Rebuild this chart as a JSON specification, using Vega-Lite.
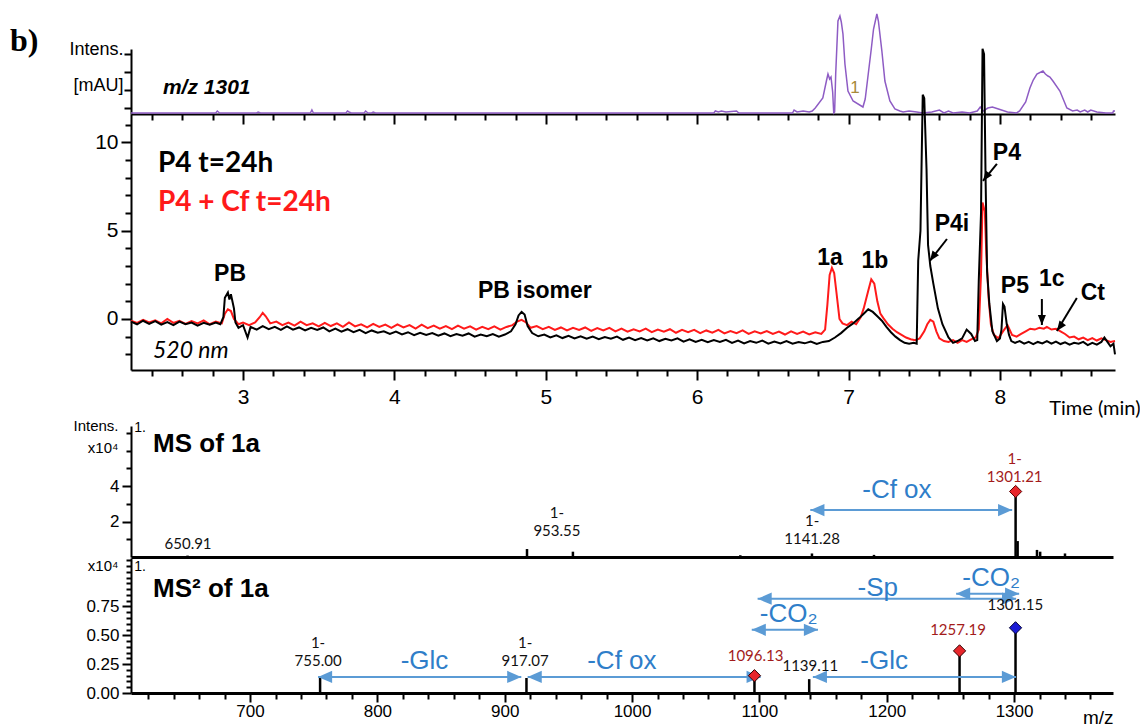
{
"$schema":"https://vega.github.io/schema/vega-lite/v6.json",
"background":"white",
"padding":{"left":10,"top":10,"right":0,"bottom":0},
"config":{"view":{"stroke":null},"axis":{"grid":false,"domainColor":"#000","tickColor":"#000","labelColor":"#000","titleColor":"#000","labelFont":"Liberation Sans","titleFont":"Liberation Sans","titleFontWeight":"normal","domainWidth":2,"tickWidth":2}},
"datasets":{
"purple":[{"t":2.26,"v":1},{"t":2.82,"v":1},{"t":2.83,"v":3},{"t":2.845,"v":1},{"t":3.09,"v":1},{"t":3.1,"v":2},{"t":3.115,"v":1},{"t":3.445,"v":1},{"t":3.455,"v":4},{"t":3.465,"v":1},{"t":3.68,"v":1},{"t":3.69,"v":3},{"t":3.7,"v":2},{"t":3.715,"v":1},{"t":3.8,"v":1},{"t":3.81,"v":3},{"t":3.825,"v":1},{"t":3.85,"v":1},{"t":3.86,"v":2},{"t":3.875,"v":1},{"t":6.11,"v":1},{"t":6.12,"v":3},{"t":6.14,"v":2},{"t":6.16,"v":3},{"t":6.19,"v":2},{"t":6.26,"v":3},{"t":6.275,"v":1},{"t":6.63,"v":1},{"t":6.64,"v":4},{"t":6.66,"v":2},{"t":6.7,"v":3},{"t":6.74,"v":2},{"t":6.76,"v":3},{"t":6.78,"v":6},{"t":6.83,"v":16},{"t":6.855,"v":34},{"t":6.864,"v":40},{"t":6.875,"v":35},{"t":6.884,"v":37},{"t":6.895,"v":22},{"t":6.902,"v":1},{"t":6.908,"v":2},{"t":6.915,"v":40},{"t":6.93,"v":93},{"t":6.943,"v":98},{"t":6.952,"v":92},{"t":6.963,"v":80},{"t":6.976,"v":50},{"t":6.996,"v":23},{"t":7.03,"v":13},{"t":7.095,"v":7},{"t":7.11,"v":15},{"t":7.13,"v":40},{"t":7.15,"v":65},{"t":7.165,"v":85},{"t":7.187,"v":100},{"t":7.197,"v":93},{"t":7.22,"v":63},{"t":7.24,"v":33},{"t":7.273,"v":13},{"t":7.306,"v":5},{"t":7.339,"v":3},{"t":7.36,"v":2},{"t":7.4,"v":3},{"t":7.45,"v":2},{"t":7.49,"v":1},{"t":7.55,"v":2},{"t":7.6,"v":4},{"t":7.63,"v":1},{"t":7.66,"v":3},{"t":7.69,"v":1},{"t":7.75,"v":2},{"t":7.8,"v":1},{"t":7.85,"v":3},{"t":7.87,"v":7},{"t":7.89,"v":3},{"t":7.92,"v":6},{"t":7.95,"v":7},{"t":7.99,"v":5},{"t":8.05,"v":2},{"t":8.11,"v":1},{"t":8.13,"v":3},{"t":8.17,"v":12},{"t":8.198,"v":26},{"t":8.22,"v":34},{"t":8.244,"v":40},{"t":8.284,"v":43},{"t":8.3,"v":40},{"t":8.317,"v":38},{"t":8.33,"v":37},{"t":8.35,"v":33},{"t":8.396,"v":23},{"t":8.442,"v":6},{"t":8.48,"v":3},{"t":8.51,"v":4},{"t":8.53,"v":2},{"t":8.56,"v":4},{"t":8.58,"v":2},{"t":8.6,"v":4},{"t":8.64,"v":2},{"t":8.7,"v":1},{"t":8.745,"v":1},{"t":8.75,"v":3},{"t":8.76,"v":3}],
"black":[{"t":2.26,"v":-0.15},{"t":2.3,"v":-0.3},{"t":2.34,"v":-0.1},{"t":2.38,"v":-0.28},{"t":2.42,"v":-0.12},{"t":2.46,"v":-0.32},{"t":2.5,"v":-0.18},{"t":2.54,"v":-0.35},{"t":2.58,"v":-0.15},{"t":2.62,"v":-0.3},{"t":2.66,"v":-0.2},{"t":2.7,"v":-0.38},{"t":2.74,"v":-0.22},{"t":2.78,"v":-0.33},{"t":2.82,"v":-0.2},{"t":2.85,"v":-0.3},{"t":2.87,"v":0.1},{"t":2.88,"v":1.2},{"t":2.9,"v":1.5},{"t":2.91,"v":1.1},{"t":2.92,"v":1.4},{"t":2.94,"v":0.6},{"t":2.95,"v":-0.2},{"t":2.97,"v":-0.5},{"t":3.0,"v":-0.35},{"t":3.03,"v":-1.05},{"t":3.05,"v":-0.45},{"t":3.09,"v":-0.6},{"t":3.13,"v":-0.4},{"t":3.17,"v":-0.58},{"t":3.21,"v":-0.45},{"t":3.25,"v":-0.62},{"t":3.29,"v":-0.42},{"t":3.33,"v":-0.6},{"t":3.37,"v":-0.48},{"t":3.41,"v":-0.65},{"t":3.45,"v":-0.5},{"t":3.49,"v":-0.62},{"t":3.53,"v":-0.48},{"t":3.57,"v":-0.7},{"t":3.61,"v":-0.55},{"t":3.65,"v":-0.72},{"t":3.69,"v":-0.58},{"t":3.73,"v":-0.75},{"t":3.77,"v":-0.62},{"t":3.81,"v":-0.8},{"t":3.85,"v":-0.65},{"t":3.89,"v":-0.78},{"t":3.93,"v":-0.7},{"t":3.97,"v":-0.85},{"t":4.01,"v":-0.72},{"t":4.05,"v":-0.88},{"t":4.09,"v":-0.75},{"t":4.13,"v":-0.92},{"t":4.17,"v":-0.78},{"t":4.21,"v":-0.9},{"t":4.25,"v":-0.8},{"t":4.29,"v":-0.95},{"t":4.33,"v":-0.82},{"t":4.37,"v":-0.98},{"t":4.41,"v":-0.85},{"t":4.45,"v":-0.95},{"t":4.49,"v":-0.82},{"t":4.53,"v":-1.0},{"t":4.57,"v":-0.88},{"t":4.61,"v":-0.98},{"t":4.65,"v":-0.85},{"t":4.69,"v":-1.0},{"t":4.73,"v":-0.88},{"t":4.77,"v":-0.7},{"t":4.8,"v":-0.3},{"t":4.82,"v":0.2},{"t":4.84,"v":0.4},{"t":4.86,"v":0.25},{"t":4.88,"v":-0.4},{"t":4.91,"v":-0.8},{"t":4.95,"v":-0.98},{"t":4.99,"v":-0.88},{"t":5.03,"v":-1.05},{"t":5.07,"v":-0.92},{"t":5.11,"v":-1.08},{"t":5.15,"v":-0.95},{"t":5.19,"v":-1.1},{"t":5.23,"v":-0.98},{"t":5.27,"v":-1.12},{"t":5.31,"v":-1.0},{"t":5.35,"v":-1.15},{"t":5.39,"v":-1.02},{"t":5.43,"v":-1.12},{"t":5.47,"v":-1.0},{"t":5.51,"v":-1.18},{"t":5.55,"v":-1.05},{"t":5.59,"v":-1.2},{"t":5.63,"v":-1.08},{"t":5.67,"v":-1.22},{"t":5.71,"v":-1.1},{"t":5.75,"v":-1.25},{"t":5.79,"v":-1.12},{"t":5.83,"v":-1.22},{"t":5.87,"v":-1.1},{"t":5.91,"v":-1.28},{"t":5.95,"v":-1.15},{"t":5.99,"v":-1.3},{"t":6.03,"v":-1.18},{"t":6.07,"v":-1.32},{"t":6.11,"v":-1.2},{"t":6.15,"v":-1.3},{"t":6.19,"v":-1.18},{"t":6.23,"v":-1.35},{"t":6.27,"v":-1.22},{"t":6.31,"v":-1.38},{"t":6.35,"v":-1.25},{"t":6.39,"v":-1.35},{"t":6.43,"v":-1.22},{"t":6.47,"v":-1.4},{"t":6.51,"v":-1.28},{"t":6.55,"v":-1.38},{"t":6.59,"v":-1.25},{"t":6.63,"v":-1.4},{"t":6.67,"v":-1.3},{"t":6.71,"v":-1.38},{"t":6.75,"v":-1.28},{"t":6.79,"v":-1.42},{"t":6.83,"v":-1.3},{"t":6.87,"v":-1.25},{"t":6.91,"v":-1.05},{"t":6.95,"v":-0.8},{"t":6.99,"v":-0.5},{"t":7.03,"v":-0.25},{"t":7.07,"v":0.05},{"t":7.1,"v":0.3},{"t":7.13,"v":0.55},{"t":7.16,"v":0.4},{"t":7.19,"v":0.15},{"t":7.22,"v":-0.1},{"t":7.25,"v":-0.45},{"t":7.28,"v":-0.75},{"t":7.31,"v":-1.0},{"t":7.34,"v":-1.2},{"t":7.37,"v":-1.35},{"t":7.4,"v":-1.4},{"t":7.43,"v":-1.35},{"t":7.45,"v":-1.4},{"t":7.46,"v":3.3},{"t":7.475,"v":5.0},{"t":7.49,"v":12.7},{"t":7.5,"v":12.5},{"t":7.515,"v":8.5},{"t":7.525,"v":4.2},{"t":7.54,"v":3.0},{"t":7.56,"v":2.0},{"t":7.59,"v":0.6},{"t":7.62,"v":-0.3},{"t":7.66,"v":-1.05},{"t":7.69,"v":-1.35},{"t":7.72,"v":-1.25},{"t":7.75,"v":-1.1},{"t":7.78,"v":-0.6},{"t":7.81,"v":-0.85},{"t":7.835,"v":-1.25},{"t":7.85,"v":-1.2},{"t":7.86,"v":2.15},{"t":7.875,"v":6.0},{"t":7.885,"v":15.3},{"t":7.895,"v":15.0},{"t":7.905,"v":8.0},{"t":7.915,"v":2.7},{"t":7.93,"v":0.85},{"t":7.95,"v":-0.7},{"t":7.98,"v":-1.25},{"t":8.0,"v":-1.1},{"t":8.01,"v":-0.6},{"t":8.02,"v":0.85},{"t":8.03,"v":0.7},{"t":8.045,"v":-0.3},{"t":8.06,"v":-0.9},{"t":8.075,"v":-1.25},{"t":8.1,"v":-1.35},{"t":8.13,"v":-1.25},{"t":8.16,"v":-1.4},{"t":8.19,"v":-1.3},{"t":8.22,"v":-1.42},{"t":8.25,"v":-1.3},{"t":8.28,"v":-1.38},{"t":8.31,"v":-1.25},{"t":8.34,"v":-1.4},{"t":8.37,"v":-1.28},{"t":8.4,"v":-1.42},{"t":8.43,"v":-1.32},{"t":8.46,"v":-1.45},{"t":8.49,"v":-1.35},{"t":8.52,"v":-1.4},{"t":8.55,"v":-1.3},{"t":8.58,"v":-1.48},{"t":8.61,"v":-1.35},{"t":8.64,"v":-1.45},{"t":8.67,"v":-1.3},{"t":8.69,"v":-1.05},{"t":8.71,"v":-1.3},{"t":8.73,"v":-1.55},{"t":8.75,"v":-1.4},{"t":8.76,"v":-2.0}],
"red":[{"t":2.26,"v":-0.1},{"t":2.3,"v":-0.22},{"t":2.34,"v":-0.05},{"t":2.38,"v":-0.2},{"t":2.42,"v":-0.08},{"t":2.46,"v":-0.25},{"t":2.5,"v":0.0},{"t":2.54,"v":-0.22},{"t":2.58,"v":-0.1},{"t":2.62,"v":-0.28},{"t":2.66,"v":-0.12},{"t":2.7,"v":-0.25},{"t":2.74,"v":-0.08},{"t":2.78,"v":-0.3},{"t":2.82,"v":-0.15},{"t":2.86,"v":-0.25},{"t":2.88,"v":0.3},{"t":2.9,"v":0.55},{"t":2.92,"v":0.45},{"t":2.94,"v":0.0},{"t":2.97,"v":-0.3},{"t":3.0,"v":-0.2},{"t":3.04,"v":-0.35},{"t":3.08,"v":-0.2},{"t":3.11,"v":0.1},{"t":3.13,"v":0.35},{"t":3.15,"v":0.15},{"t":3.18,"v":-0.25},{"t":3.22,"v":-0.15},{"t":3.26,"v":-0.35},{"t":3.3,"v":-0.2},{"t":3.34,"v":-0.38},{"t":3.38,"v":-0.15},{"t":3.42,"v":-0.35},{"t":3.46,"v":-0.25},{"t":3.5,"v":-0.42},{"t":3.54,"v":-0.22},{"t":3.58,"v":-0.4},{"t":3.62,"v":-0.25},{"t":3.66,"v":-0.45},{"t":3.7,"v":-0.2},{"t":3.74,"v":-0.42},{"t":3.78,"v":-0.3},{"t":3.82,"v":-0.48},{"t":3.86,"v":-0.28},{"t":3.9,"v":-0.45},{"t":3.94,"v":-0.32},{"t":3.98,"v":-0.5},{"t":4.02,"v":-0.3},{"t":4.06,"v":-0.48},{"t":4.1,"v":-0.35},{"t":4.14,"v":-0.55},{"t":4.18,"v":-0.32},{"t":4.22,"v":-0.52},{"t":4.26,"v":-0.38},{"t":4.3,"v":-0.55},{"t":4.34,"v":-0.4},{"t":4.38,"v":-0.58},{"t":4.42,"v":-0.38},{"t":4.46,"v":-0.55},{"t":4.5,"v":-0.42},{"t":4.54,"v":-0.6},{"t":4.58,"v":-0.45},{"t":4.62,"v":-0.58},{"t":4.66,"v":-0.42},{"t":4.7,"v":-0.6},{"t":4.74,"v":-0.45},{"t":4.78,"v":-0.35},{"t":4.81,"v":-0.15},{"t":4.84,"v":-0.05},{"t":4.87,"v":-0.2},{"t":4.9,"v":-0.5},{"t":4.94,"v":-0.4},{"t":4.98,"v":-0.58},{"t":5.02,"v":-0.45},{"t":5.06,"v":-0.62},{"t":5.1,"v":-0.48},{"t":5.14,"v":-0.65},{"t":5.18,"v":-0.5},{"t":5.22,"v":-0.62},{"t":5.26,"v":-0.48},{"t":5.3,"v":-0.68},{"t":5.34,"v":-0.52},{"t":5.38,"v":-0.65},{"t":5.42,"v":-0.5},{"t":5.46,"v":-0.7},{"t":5.5,"v":-0.55},{"t":5.54,"v":-0.72},{"t":5.58,"v":-0.58},{"t":5.62,"v":-0.7},{"t":5.66,"v":-0.55},{"t":5.7,"v":-0.75},{"t":5.74,"v":-0.6},{"t":5.78,"v":-0.72},{"t":5.82,"v":-0.58},{"t":5.86,"v":-0.78},{"t":5.9,"v":-0.62},{"t":5.94,"v":-0.75},{"t":5.98,"v":-0.62},{"t":6.02,"v":-0.8},{"t":6.06,"v":-0.65},{"t":6.1,"v":-0.78},{"t":6.14,"v":-0.62},{"t":6.18,"v":-0.82},{"t":6.22,"v":-0.68},{"t":6.26,"v":-0.8},{"t":6.3,"v":-0.65},{"t":6.34,"v":-0.85},{"t":6.38,"v":-0.7},{"t":6.42,"v":-0.82},{"t":6.46,"v":-0.68},{"t":6.5,"v":-0.85},{"t":6.54,"v":-0.72},{"t":6.58,"v":-0.88},{"t":6.62,"v":-0.7},{"t":6.66,"v":-0.85},{"t":6.7,"v":-0.72},{"t":6.74,"v":-0.88},{"t":6.78,"v":-0.75},{"t":6.82,"v":-0.85},{"t":6.845,"v":-0.6},{"t":6.86,"v":0.8},{"t":6.875,"v":2.5},{"t":6.89,"v":2.9},{"t":6.905,"v":2.6},{"t":6.92,"v":1.5},{"t":6.94,"v":0.0},{"t":6.96,"v":-0.25},{"t":6.99,"v":-0.35},{"t":7.02,"v":-0.15},{"t":7.05,"v":-0.3},{"t":7.08,"v":0.1},{"t":7.1,"v":0.6},{"t":7.13,"v":1.6},{"t":7.15,"v":2.25},{"t":7.17,"v":2.0},{"t":7.19,"v":1.0},{"t":7.21,"v":0.3},{"t":7.23,"v":0.05},{"t":7.26,"v":-0.3},{"t":7.29,"v":-0.55},{"t":7.32,"v":-0.75},{"t":7.35,"v":-0.9},{"t":7.38,"v":-1.05},{"t":7.41,"v":-1.15},{"t":7.44,"v":-1.2},{"t":7.47,"v":-1.1},{"t":7.5,"v":-0.7},{"t":7.52,"v":-0.3},{"t":7.54,"v":-0.05},{"t":7.56,"v":-0.15},{"t":7.58,"v":-0.7},{"t":7.6,"v":-1.1},{"t":7.63,"v":-1.25},{"t":7.66,"v":-1.3},{"t":7.69,"v":-1.2},{"t":7.72,"v":-1.35},{"t":7.75,"v":-1.2},{"t":7.78,"v":-1.3},{"t":7.81,"v":-1.15},{"t":7.84,"v":-1.05},{"t":7.86,"v":-0.6},{"t":7.875,"v":2.55},{"t":7.885,"v":6.6},{"t":7.9,"v":6.1},{"t":7.91,"v":3.7},{"t":7.925,"v":1.2},{"t":7.94,"v":-0.3},{"t":7.96,"v":-0.9},{"t":7.99,"v":-1.1},{"t":8.02,"v":-0.7},{"t":8.05,"v":-0.35},{"t":8.08,"v":-0.9},{"t":8.11,"v":-1.0},{"t":8.14,"v":-0.85},{"t":8.17,"v":-0.7},{"t":8.2,"v":-0.55},{"t":8.23,"v":-0.6},{"t":8.26,"v":-0.5},{"t":8.29,"v":-0.55},{"t":8.31,"v":-0.45},{"t":8.34,"v":-0.6},{"t":8.37,"v":-0.55},{"t":8.4,"v":-0.7},{"t":8.43,"v":-0.85},{"t":8.46,"v":-1.05},{"t":8.49,"v":-1.0},{"t":8.52,"v":-1.15},{"t":8.55,"v":-1.05},{"t":8.58,"v":-1.2},{"t":8.61,"v":-1.08},{"t":8.64,"v":-1.22},{"t":8.67,"v":-1.1},{"t":8.7,"v":-1.2},{"t":8.73,"v":-1.3},{"t":8.76,"v":-1.25}],
"chromText":[{"t":2.914,"v":2.55,"label":"PB"},{"t":4.928,"v":1.59,"label":"PB isomer"},{"t":6.877,"v":3.46,"label":"1a"},{"t":7.174,"v":3.29,"label":"1b"},{"t":7.683,"v":5.38,"label":"P4i"},{"t":8.046,"v":9.41,"label":"P4"},{"t":8.099,"v":1.87,"label":"P5"},{"t":8.343,"v":2.27,"label":"1c"},{"t":8.614,"v":1.47,"label":"Ct"}],
"chromLegend":[{"t":2.438,"v":8.78,"label":"P4 t=24h","kind":"k"},{"t":2.438,"v":6.57,"label":"P4 + Cf t=24h","kind":"r"}],
"chromArrows":[{"t":7.65,"v":4.53,"t2":7.537,"v2":3.29},{"t":7.98,"v":8.78,"t2":7.888,"v2":7.82},{"t":8.508,"v":1.19,"t2":8.376,"v2":-0.68},{"t":8.277,"v":1.13,"t2":8.277,"v2":-0.34}],
"chromHeads":[{"t":7.537,"v":3.29,"dir":"diag"},{"t":7.888,"v":7.82,"dir":"diag"},{"t":8.376,"v":-0.68,"dir":"diag"},{"t":8.277,"v":-0.34,"dir":"vert"}],
"msPeaks":[{"mz":650.91,"v":0.08},{"mz":917.5,"v":0.45},{"mz":953.55,"v":0.3},{"mz":1085,"v":0.1},{"mz":1141.28,"v":0.2},{"mz":1190,"v":0.12},{"mz":1301.21,"v":3.6},{"mz":1302.8,"v":0.9},{"mz":1318,"v":0.4},{"mz":1320.5,"v":0.3},{"mz":1340,"v":0.2}],
"msDiamonds":[{"mz":1301.21,"v":3.7}],
"msLabels":[{"mz":651.3,"v":0.76,"label":"650.91","kind":"k"},{"mz":941,"v":2.5,"label":"1-\n953.55","kind":"k"},{"mz":1141.4,"v":2.05,"label":"1-\n1141.28","kind":"k"},{"mz":1300.5,"v":5.55,"label":"1-\n1301.21","kind":"r"}],
"msArrows":[{"mz":1140,"mz2":1298.5,"v":2.65}],
"msHeads":[{"mz":1140,"v":2.65,"dir":"left"},{"mz":1298.5,"v":2.65,"dir":"right"}],
"msText":[{"mz":1208,"v":3.76,"label":"-Cf ox"}],
"ms2Peaks":[{"mz":755.0,"v":0.13},{"mz":917.07,"v":0.13},{"mz":1096.13,"v":0.16},{"mz":1139.11,"v":0.12},{"mz":1257.19,"v":0.365},{"mz":1301.15,"v":0.565}],
"ms2Diamonds":[{"mz":1096.13,"v":0.15,"kind":"r"},{"mz":1257.19,"v":0.365,"kind":"r"},{"mz":1301.15,"v":0.565,"kind":"b"}],
"ms2Labels":[{"mz":753.4,"v":0.43,"label":"1-\n755.00","kind":"k"},{"mz":916,"v":0.43,"label":"1-\n917.07","kind":"k"},{"mz":1097,"v":0.32,"label":"1096.13","kind":"r"},{"mz":1140,"v":0.235,"label":"1139.11","kind":"k"},{"mz":1256,"v":0.55,"label":"1257.19","kind":"r"},{"mz":1301,"v":0.76,"label":"1301.15","kind":"k"}],
"ms2Arrows":[{"mz":753.4,"mz2":913,"v":0.139},{"mz":918,"mz2":1101,"v":0.139},{"mz":1142,"mz2":1301.5,"v":0.139},{"mz":1094,"mz2":1146,"v":0.548},{"mz":1098.6,"mz2":1301.6,"v":0.817},{"mz":1254.5,"mz2":1304,"v":0.861}],
"ms2Heads":[{"mz":753.4,"v":0.139,"dir":"left"},{"mz":913,"v":0.139,"dir":"right"},{"mz":918,"v":0.139,"dir":"left"},{"mz":1101,"v":0.139,"dir":"right"},{"mz":1142,"v":0.139,"dir":"left"},{"mz":1301.5,"v":0.139,"dir":"right"},{"mz":1094,"v":0.548,"dir":"left"},{"mz":1146,"v":0.548,"dir":"right"},{"mz":1098.6,"v":0.817,"dir":"left"},{"mz":1301.6,"v":0.817,"dir":"right"},{"mz":1254.5,"v":0.861,"dir":"left"},{"mz":1304,"v":0.861,"dir":"right"}],
"ms2Text":[{"mz":837,"v":0.278,"label":"-Glc"},{"mz":992,"v":0.278,"label":"-Cf ox"},{"mz":1198,"v":0.278,"label":"-Glc"},{"mz":1123,"v":0.687,"label":"-CO₂"},{"mz":1193,"v":0.913,"label":"-Sp"},{"mz":1282,"v":1.0,"label":"-CO₂"}]
},
"spacing":0,
"bounds":"flush",
"vconcat":[
{"width":984,"height":65,
"encoding":{
"x":{"field":"t","type":"quantitative","scale":{"domain":[2.26,8.76],"nice":false,"zero":false},"axis":{"values":[2.4,2.6,2.8,3,3.2,3.4,3.6,3.8,4,4.2,4.4,4.6,4.8,5,5.2,5.4,5.6,5.8,6,6.2,6.4,6.6,6.8,7,7.2,7.4,7.6,7.8,8,8.2,8.4,8.6],"labels":false,"tickSize":{"condition":{"test":"abs(datum.value-round(datum.value))<0.01","value":10},"value":6},"title":null}},
"y":{"field":"v","type":"quantitative","scale":{"domain":[0,65],"nice":false,"zero":false},"axis":{"values":[6,24,42,60],"labels":false,"tickSize":7,"title":["Intens.","[mAU]"],"titleAngle":0,"titleAlign":"right","titleBaseline":"top","titleX":-8,"titleY":-9,"titleFontSize":18,"titleLineHeight":36}}
},
"layer":[
{"data":{"name":"purple"},"mark":{"type":"line","color":"#8e5cc4","strokeWidth":1.5}},
{"data":{"values":[{"t":2.471,"v":26,"label":"m/z 1301"}]},"mark":{"type":"text","align":"left","baseline":"middle","font":"Liberation Sans","fontSize":21,"fontWeight":"bold","fontStyle":"italic","color":"#000"},"encoding":{"text":{"field":"label"}}},
{"data":{"values":[{"t":7.042,"v":26,"label":"1"}]},"mark":{"type":"text","align":"center","baseline":"middle","font":"Liberation Sans","fontSize":17,"color":"#a88a3a"},"encoding":{"text":{"field":"label"}}},
{"data":{"values":[{"t":1.461,"v":73,"label":"b)"}]},"mark":{"type":"text","align":"left","baseline":"middle","font":"Liberation Serif","fontSize":32,"fontWeight":"bold","color":"#000"},"encoding":{"text":{"field":"label"}}}
]},
{"width":984,"height":256,
"encoding":{
"x":{"field":"t","type":"quantitative","scale":{"domain":[2.26,8.76],"nice":false,"zero":false},"axis":{"values":[2.4,2.6,2.8,3,3.2,3.4,3.6,3.8,4,4.2,4.4,4.6,4.8,5,5.2,5.4,5.6,5.8,6,6.2,6.4,6.6,6.8,7,7.2,7.4,7.6,7.8,8,8.2,8.4,8.6],"format":".0f","labelExpr":"abs(datum.value-round(datum.value))<0.01 ? datum.label : ''","labelOverlap":false,"labelFlush":false,"labelFontSize":21,"labelPadding":6,"tickSize":{"condition":{"test":"abs(datum.value-round(datum.value))<0.01","value":10},"value":6},"title":"Time (min)","titleFont":"Lato","titleFontSize":20,"titleX":1009,"titleY":38,"titleAlign":"right","titleBaseline":"middle"}},
"y":{"field":"v","type":"quantitative","scale":{"domain":[-2.89,11.61],"nice":false,"zero":false},"axis":{"values":[-2,-1,0,1,2,3,4,5,6,7,8,9,10,11],"labelExpr":"datum.value % 5 === 0 ? datum.label : ''","labelOverlap":false,"labelFontSize":21,"labelPadding":3,"tickSize":{"condition":{"test":"datum.value % 5 === 0","value":10},"value":6},"title":null}}
},
"layer":[
{"data":{"name":"red"},"mark":{"type":"line","color":"#ff1a1a","strokeWidth":2}},
{"data":{"name":"black"},"mark":{"type":"line","color":"#000000","strokeWidth":2}},
{"data":{"name":"chromText"},"mark":{"type":"text","align":"center","baseline":"middle","font":"Liberation Sans","fontSize":23,"fontWeight":"bold","color":"#000"},"encoding":{"text":{"field":"label"}}},
{"data":{"name":"chromLegend"},"transform":[{"filter":"datum.kind === 'k'"}],"mark":{"type":"text","align":"left","baseline":"middle","font":"Lato","fontSize":28,"fontWeight":"bold","color":"#000000"},"encoding":{"text":{"field":"label"}}},
{"data":{"name":"chromLegend"},"transform":[{"filter":"datum.kind === 'r'"}],"mark":{"type":"text","align":"left","baseline":"middle","font":"Lato","fontSize":28,"fontWeight":"bold","color":"#ff1a1a"},"encoding":{"text":{"field":"label"}}},
{"data":{"values":[{"t":2.405,"v":-1.81,"label":"520 nm"}]},"mark":{"type":"text","align":"left","baseline":"middle","font":"Lato","fontSize":23,"fontStyle":"italic","color":"#000"},"encoding":{"text":{"field":"label"}}},
{"data":{"name":"chromArrows"},"mark":{"type":"rule","color":"#000","strokeWidth":2},"encoding":{"x2":{"field":"t2"},"y2":{"field":"v2"}}},
{"data":{"name":"chromHeads"},"transform":[{"filter":"datum.dir === 'diag'"}],"mark":{"type":"point","shape":"M0,0L-1,-2.5L1,-2.5Z","filled":true,"color":"#000","opacity":1,"size":64,"angle":36,"strokeWidth":0}},
{"data":{"name":"chromHeads"},"transform":[{"filter":"datum.dir === 'vert'"}],"mark":{"type":"point","shape":"M0,0L-1,-2.5L1,-2.5Z","filled":true,"color":"#000","opacity":1,"size":64,"strokeWidth":0}}
]},
{"width":982,"height":187,
"encoding":{
"x":{"field":"mz","type":"quantitative","scale":{"domain":[606.5,1377.7],"nice":false,"zero":false},"axis":{"labels":false,"ticks":false,"domainWidth":3,"title":null}},
"y":{"field":"v","type":"quantitative","scale":{"domain":[0,7.4],"range":[187,56],"nice":false,"zero":false},"axis":{"values":[1,2,3,4,5,6,7],"labelExpr":"(datum.value===2||datum.value===4) ? datum.label : ''","labelOverlap":false,"labelFontSize":17,"labelPadding":3,"tickSize":{"condition":{"test":"datum.value===2||datum.value===4","value":9},"value":5},"title":["Intens.","x10⁴"],"titleAngle":0,"titleAlign":"right","titleBaseline":"top","titleX":-13,"titleY":48,"titleFontSize":15,"titleLineHeight":22}}
},
"layer":[
{"data":{"name":"msPeaks"},"mark":{"type":"rule","color":"#000","strokeWidth":2.5},"encoding":{"y2":{"datum":0}}},
{"data":{"name":"msArrows"},"mark":{"type":"rule","color":"#5b9bd5","strokeWidth":2},"encoding":{"x2":{"field":"mz2"}}},
{"data":{"name":"msHeads"},"transform":[{"filter":"datum.dir === 'left'"}],"mark":{"type":"point","shape":"M0,0L2.3,-1L2.3,1Z","filled":true,"color":"#5b9bd5","opacity":1,"size":150,"strokeWidth":0}},
{"data":{"name":"msHeads"},"transform":[{"filter":"datum.dir === 'right'"}],"mark":{"type":"point","shape":"M0,0L-2.3,-1L-2.3,1Z","filled":true,"color":"#5b9bd5","opacity":1,"size":150,"strokeWidth":0}},
{"data":{"name":"msDiamonds"},"mark":{"type":"point","shape":"diamond","filled":true,"opacity":1,"size":150,"fill":"#e8262b","stroke":"#5a0000","strokeWidth":1}},
{"data":{"name":"msLabels"},"transform":[{"filter":"datum.kind === 'k'"}],"mark":{"type":"text","align":"center","baseline":"middle","font":"Lato","fontSize":15,"lineBreak":"\n","lineHeight":18,"color":"#111111"},"encoding":{"text":{"field":"label"}}},
{"data":{"name":"msLabels"},"transform":[{"filter":"datum.kind === 'r'"}],"mark":{"type":"text","align":"center","baseline":"middle","font":"Lato","fontSize":15,"lineBreak":"\n","lineHeight":18,"color":"#a31b1b"},"encoding":{"text":{"field":"label"}}},
{"data":{"name":"msText"},"mark":{"type":"text","align":"center","baseline":"middle","font":"Liberation Sans","fontSize":26,"color":"#2f7ec9"},"encoding":{"text":{"field":"label"}}},
{"data":{"values":[{"mz":623.8,"v":6.41,"label":"MS of 1a"}]},"mark":{"type":"text","align":"left","baseline":"middle","font":"Liberation Sans","fontSize":26,"fontWeight":"bold","color":"#000"},"encoding":{"text":{"field":"label"}}},
{"data":{"values":[{"mz":609,"v":7.3,"label":"1."}]},"mark":{"type":"text","align":"left","baseline":"middle","font":"Liberation Sans","fontSize":14,"color":"#000"},"encoding":{"text":{"field":"label"}}}
]},
{"width":982,"height":136,
"encoding":{
"x":{"field":"mz","type":"quantitative","scale":{"domain":[606.5,1377.7],"nice":false,"zero":false},"axis":{"values":[620,640,660,680,700,720,740,760,780,800,820,840,860,880,900,920,940,960,980,1000,1020,1040,1060,1080,1100,1120,1140,1160,1180,1200,1220,1240,1260,1280,1300,1320,1340,1360],"format":"d","labelExpr":"datum.value % 100 === 0 ? datum.label : ''","labelOverlap":false,"labelFlush":false,"labelFontSize":17,"labelPadding":1,"domainWidth":3,"tickSize":{"condition":{"test":"datum.value % 100 === 0","value":9},"value":6},"title":"m/z","titleFontSize":19,"titleX":982,"titleY":24,"titleAlign":"right","titleBaseline":"middle"}},
"y":{"field":"v","type":"quantitative","scale":{"domain":[0,1.17],"range":[136,1],"nice":false,"zero":false},"axis":{"values":[0,0.05,0.1,0.15,0.2,0.25,0.3,0.35,0.4,0.45,0.5,0.55,0.6,0.65,0.7,0.75,0.8,0.85,0.9,0.95,1,1.05,1.1,1.15],"format":".2f","labelExpr":"(abs(datum.value*4-round(datum.value*4))<0.01 && datum.value<0.9) ? datum.label : ''","labelOverlap":false,"labelFontSize":17,"labelPadding":3,"tickSize":{"condition":{"test":"abs(datum.value*4-round(datum.value*4))<0.01 && datum.value<0.9","value":9},"value":5},"title":"x10⁴","titleAngle":0,"titleAlign":"right","titleBaseline":"top","titleX":-13,"titleY":1,"titleFontSize":15}}
},
"layer":[
{"data":{"name":"ms2Peaks"},"mark":{"type":"rule","color":"#000","strokeWidth":2.5},"encoding":{"y2":{"datum":0}}},
{"data":{"name":"ms2Arrows"},"mark":{"type":"rule","color":"#5b9bd5","strokeWidth":2},"encoding":{"x2":{"field":"mz2"}}},
{"data":{"name":"ms2Heads"},"transform":[{"filter":"datum.dir === 'left'"}],"mark":{"type":"point","shape":"M0,0L2.3,-1L2.3,1Z","filled":true,"color":"#5b9bd5","opacity":1,"size":150,"strokeWidth":0}},
{"data":{"name":"ms2Heads"},"transform":[{"filter":"datum.dir === 'right'"}],"mark":{"type":"point","shape":"M0,0L-2.3,-1L-2.3,1Z","filled":true,"color":"#5b9bd5","opacity":1,"size":150,"strokeWidth":0}},
{"data":{"name":"ms2Diamonds"},"transform":[{"filter":"datum.kind === 'r'"}],"mark":{"type":"point","shape":"diamond","filled":true,"opacity":1,"size":150,"fill":"#e8262b","stroke":"#300000","strokeWidth":1}},
{"data":{"name":"ms2Diamonds"},"transform":[{"filter":"datum.kind === 'b'"}],"mark":{"type":"point","shape":"diamond","filled":true,"opacity":1,"size":150,"fill":"#1b1bd6","stroke":"#000030","strokeWidth":1}},
{"data":{"name":"ms2Labels"},"transform":[{"filter":"datum.kind === 'k'"}],"mark":{"type":"text","align":"center","baseline":"middle","font":"Lato","fontSize":15,"lineBreak":"\n","lineHeight":18,"color":"#111111"},"encoding":{"text":{"field":"label"}}},
{"data":{"name":"ms2Labels"},"transform":[{"filter":"datum.kind === 'r'"}],"mark":{"type":"text","align":"center","baseline":"middle","font":"Lato","fontSize":15,"lineBreak":"\n","lineHeight":18,"color":"#a31b1b"},"encoding":{"text":{"field":"label"}}},
{"data":{"name":"ms2Text"},"mark":{"type":"text","align":"center","baseline":"middle","font":"Liberation Sans","fontSize":26,"color":"#2f7ec9"},"encoding":{"text":{"field":"label"}}},
{"data":{"values":[{"mz":623.8,"v":0.905,"label":"MS² of 1a"}]},"mark":{"type":"text","align":"left","baseline":"middle","font":"Liberation Sans","fontSize":26,"fontWeight":"bold","color":"#000"},"encoding":{"text":{"field":"label"}}},
{"data":{"values":[{"mz":609,"v":1.096,"label":"1."}]},"mark":{"type":"text","align":"left","baseline":"middle","font":"Liberation Sans","fontSize":14,"color":"#000"},"encoding":{"text":{"field":"label"}}}
]}
]
}
